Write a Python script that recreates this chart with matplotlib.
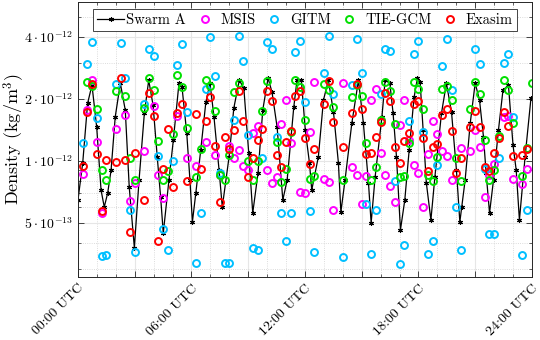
import matplotlib
matplotlib.use('Agg')
import matplotlib.pyplot as plt
import numpy as np
from matplotlib.ticker import MultipleLocator, FixedLocator, FixedFormatter

plt.rcParams['font.family'] = 'serif'
plt.rcParams['font.serif'] = ['cmr10']
plt.rcParams['mathtext.fontset'] = 'cm'
plt.rcParams['axes.formatter.use_mathtext'] = True
plt.rcParams['axes.unicode_minus'] = False

nan = np.nan

# Swarm A along-track density (hours UTC, units of 1e-12 kg/m^3)
swarm_t = [0.00, 0.25, 0.51, 0.74, 0.99, 1.22, 1.39, 1.57, 1.75, 1.97, 2.24, 2.50, 2.71, 2.98, 3.23,
           3.51, 3.74, 3.97, 4.19, 4.37, 4.51, 4.81, 5.04, 5.34, 5.50, 5.75, 5.92, 6.05, 6.23, 6.49,
           6.76, 6.98, 7.19, 7.46, 7.63, 7.99, 8.24, 8.53, 8.77, 9.03, 9.24, 9.52, 9.77, 10.05, 10.26,
           10.53, 10.83, 11.06, 11.41, 11.58, 11.81, 12.02, 12.24, 12.36, 12.71, 12.98, 13.24, 13.51,
           13.77, 13.90, 14.12, 14.48, 14.83, 15.09, 15.36, 15.50, 15.71, 16.07, 16.24, 16.49, 16.66,
           16.84, 17.05, 17.28, 17.51, 17.77, 17.95, 18.09, 18.25, 18.42, 18.66, 18.87, 19.22, 19.48,
           19.75, 20.01, 20.19, 20.29, 20.47, 20.74, 21.00, 21.23, 21.44, 21.58, 21.76, 21.97, 22.23,
           22.47, 22.76, 23.00, 23.17, 23.34, 23.64, 23.95]
swarm_rho = [0.647, 0.978, 1.91, 2.34, 1.46, 0.723, 0.598, 0.699, 0.904, 1.64, 2.39, 1.77, 0.748, 0.38,
             0.809, 1.71, 2.47, 1.87, 1.05, 0.669, 0.447, 0.809, 1.26, 2.39, 2.29, 1.37, 0.809, 0.506,
             0.699, 1.13, 1.93, 2.39, 1.64, 0.904, 0.598, 1.05, 1.81, 2.47, 2.26, 1.09, 0.559, 0.875,
             1.77, 2.53, 2.16, 1.46, 0.647, 0.809, 1.83, 2.47, 2.47, 1.41, 0.978, 0.723, 1.05, 1.98,
             2.47, 1.73, 0.978, 0.565, 0.809, 1.53, 2.47, 1.53, 0.782, 0.50, 0.836, 1.64, 2.47, 2.39,
             1.71, 1.05, 0.463, 0.647, 1.13, 2.04, 2.53, 2.42, 1.41, 0.782, 0.517, 0.836, 1.71, 2.39,
             1.73, 0.904, 0.506, 0.598, 0.809, 1.53, 2.39, 1.98, 1.31, 0.875, 0.559, 0.809, 1.41, 2.21,
             2.34, 1.20, 0.904, 0.517, 1.05, 2.02]

# model samples
model_t = [0.25, 0.5, 0.75, 1.0, 1.25, 1.5, 2.0, 2.25, 2.5, 2.75, 3.0, 3.5, 3.75, 4.0, 4.25, 4.5, 4.75,
           5.0, 5.25, 5.5, 5.75, 6.25, 6.5, 6.75, 7.0, 7.25, 7.5, 7.75, 8.0, 8.25, 8.5, 8.75, 9.0, 9.25,
           9.5, 9.75, 10.0, 10.25, 10.5, 10.75, 11.0, 11.25, 11.5, 11.75, 12.0, 12.25, 12.5, 13.0, 13.25,
           13.5, 14.0, 14.5, 14.75, 15.0, 15.25, 15.5, 15.75, 16.0, 16.25, 16.5, 16.75, 17.0, 17.25, 17.5,
           17.75, 18.0, 18.25, 18.5, 18.75, 19.0, 19.25, 19.5, 19.75, 20.0, 20.25, 20.75, 21.0, 21.25,
           21.5, 21.75, 22.0, 22.25, 22.5, 22.75, 23.0, 23.5, 23.75, 24.0]
msis = [0.87, 1.77, 2.47, 1.24, 0.56, nan, 1.43, nan, 1.67, 0.64, 0.78, 1.12, nan, 1.86, 0.86, 0.66, nan,
        nan, 1.65, nan, 1.03, 0.95, nan, 1.24, nan, 1.07, 0.86, nan, 1.18, 1.03, 1.13, 0.95, 0.90, 1.37,
        1.48, nan, 0.90, 0.78, 0.84, 1.51, 1.99, 1.23, nan, 0.71, 0.70, 1.39, 2.42, 0.82, 0.79, 0.58,
        2.40, 0.94, 0.86, 0.62, 0.85, 1.99, 2.23, 1.10, 0.86, 0.76, 0.63, 1.50, 1.99, 1.26, 0.96, 0.88,
        0.60, 1.08, 1.57, 1.35, 1.12, 1.06, 0.81, nan, 1.16, 1.12, 1.41, 1.17, 0.67, 0.86, 0.97, nan,
        1.63, 1.65, 0.82, 0.77, 0.92, nan]
gitm = [1.22, 2.95, 3.77, 1.62, 0.345, 0.35, 2.38, 3.76, 2.52, 0.58, 0.36, 1.89, 3.49, 3.24, 1.06, 0.47,
        0.37, 1.00, 2.92, 3.70, 1.73, 0.32, 0.56, 2.23, 3.99, 2.59, 0.88, 0.32, 0.32, 1.58, 4.04, 3.06,
        1.34, 0.38, 0.37, 1.04, 3.77, 3.50, 1.31, 0.56, 0.41, 0.56, 3.39, 3.82, 1.94, 0.57, 0.36, 2.68,
        4.05, 2.11, 0.34, 2.34, 3.91, 2.69, 0.62, 0.354, 0.58, 2.13, 3.50, 3.43, 0.80, 0.315, 0.39, 1.57,
        3.31, 3.82, 1.39, 0.354, 0.41, 0.96, 2.89, 3.91, 2.21, 0.60, 0.37, nan, 3.50, 2.95, 0.92, 0.44,
        0.44, 1.03, 2.98, 3.31, 1.63, 0.35, 0.58, nan]
tiegcm = [nan, 2.43, 2.31, 1.80, 0.90, 0.81, 2.19, nan, 2.07, 1.04, 0.81, 1.82, 2.52, 2.22, 1.25, 0.81,
          0.89, 1.35, 2.62, 2.29, 1.45, 0.84, 1.15, 2.49, 2.31, 1.75, 0.86, 0.81, 1.07, 2.17, 2.40, nan,
          1.00, 0.81, 1.00, 1.75, 2.45, nan, 1.24, 0.79, 0.92, 1.39, 2.49, 2.29, 1.58, 0.82, 0.85, 2.36,
          2.21, 1.84, 0.81, 2.04, 2.34, 2.07, 1.22, 0.81, 0.94, 1.58, 2.43, 2.19, 1.52, 0.84, 0.85, 1.22,
          2.43, 2.23, 1.79, 0.86, 0.80, 1.05, 2.23, 2.31, 1.99, 1.03, 0.80, 1.80, 2.43, 2.13, 1.26, 0.81,
          0.90, 1.32, 2.49, 2.21, 1.53, 0.85, 1.16, 2.40]
exasim = [0.95, 1.73, 2.36, 1.08, 0.57, 1.01, 0.99, 2.52, 1.01, 0.45, 1.10, 0.65, 2.15, 1.65, 0.41, 0.92,
          1.43, 0.75, 1.72, 1.89, 0.80, 1.69, 0.92, 1.56, 2.04, 1.18, 0.63, 1.31, 1.14, 1.41, 2.19, 1.56,
          0.84, 1.03, 1.27, 1.43, 2.19, 1.96, 1.07, 0.94, 1.24, 1.40, 2.07, 2.19, 1.30, 0.97, 1.15, 1.89,
          2.45, 1.54, 1.17, 1.72, 2.37, 1.79, 1.08, 1.10, 1.31, 1.55, 2.15, 1.96, 1.17, 0.98, 1.25, 1.37,
          1.89, 1.96, 1.29, 0.89, 1.17, 1.21, 1.67, 1.79, 1.40, 0.88, 1.04, 1.47, 1.75, 1.47, 0.94, 0.89,
          1.10, 1.29, 1.73, 1.48, 1.06, 1.07, 1.15, nan]

fig = plt.figure(figsize=(5.4, 3.4), dpi=100)
ax = fig.add_axes([0.1444, 0.185, 0.8406, 0.81])

scale = 1e-12
ax.plot(swarm_t, np.array(swarm_rho) * scale, '-', color='k', lw=0.9,
        marker=(6, 2, 0), ms=3.5, mew=0.8, label='Swarm A')
mk = dict(ls='none', marker='o', ms=5, mew=1.4, mfc='none')
ax.plot(model_t, np.array(msis) * scale, mec='#FF00FF', label='MSIS', **mk)
ax.plot(model_t, np.array(gitm) * scale, mec='#00BFFF', label='GITM', **mk)
ax.plot(model_t, np.array(tiegcm) * scale, mec='#00E000', label='TIE-GCM', **mk)
ax.plot(model_t, np.array(exasim) * scale, mec='#FF0000', label='Exasim', **mk)

ax.set_yscale('log')
ax.set_ylim(2.73e-13, 5.95e-12)
ax.set_xlim(0, 24)

yt = [5e-13, 1e-12, 2e-12, 4e-12]
ax.yaxis.set_major_locator(FixedLocator(yt))
ax.yaxis.set_major_formatter(FixedFormatter([r'$5\cdot10^{-13}$', r'$1\cdot10^{-12}$',
                                             r'$2\cdot10^{-12}$', r'$4\cdot10^{-12}$']))
ax.yaxis.set_minor_locator(FixedLocator([3e-13, 4e-13, 6e-13, 7e-13, 8e-13, 9e-13, 3e-12, 5e-12]))
ax.yaxis.set_minor_formatter(FixedFormatter([''] * 8))

xt = np.arange(0, 25, 3)
ax.xaxis.set_major_locator(FixedLocator(xt))
ax.xaxis.set_major_formatter(FixedFormatter(['%02d:00 UTC' % h if h % 6 == 0 else '' for h in xt]))
ax.xaxis.set_minor_locator(MultipleLocator(1))

ax.grid(which='major', color='#e6e6e6', lw=0.8)
ax.grid(which='minor', color='#d0d0d0', lw=0.6, ls=':')
ax.set_axisbelow(True)

ax.tick_params(which='both', direction='in', top=True, right=True, colors='#262626',
               labelcolor='k', labelsize=10)
ax.tick_params(which='major', length=4, width=0.6)
ax.tick_params(which='minor', length=2, width=0.5)
for s in ax.spines.values():
    s.set_color('#262626')
    s.set_linewidth(0.7)
plt.setp(ax.get_xticklabels(), rotation=45, ha='right', rotation_mode='anchor')

ax.set_ylabel(r'Density (kg/m$^3$)', fontsize=13)
ax.yaxis.set_label_coords(-0.113, 0.5)

leg = ax.legend(loc='upper center', ncol=5, fontsize=10.5, frameon=True, fancybox=False,
                edgecolor='#262626', framealpha=1, handlelength=1.85, handletextpad=0.15,
                columnspacing=0.35, borderpad=0.3, borderaxespad=0.5)
leg.get_frame().set_linewidth(0.6)

fig.savefig('out.png', dpi=100)
